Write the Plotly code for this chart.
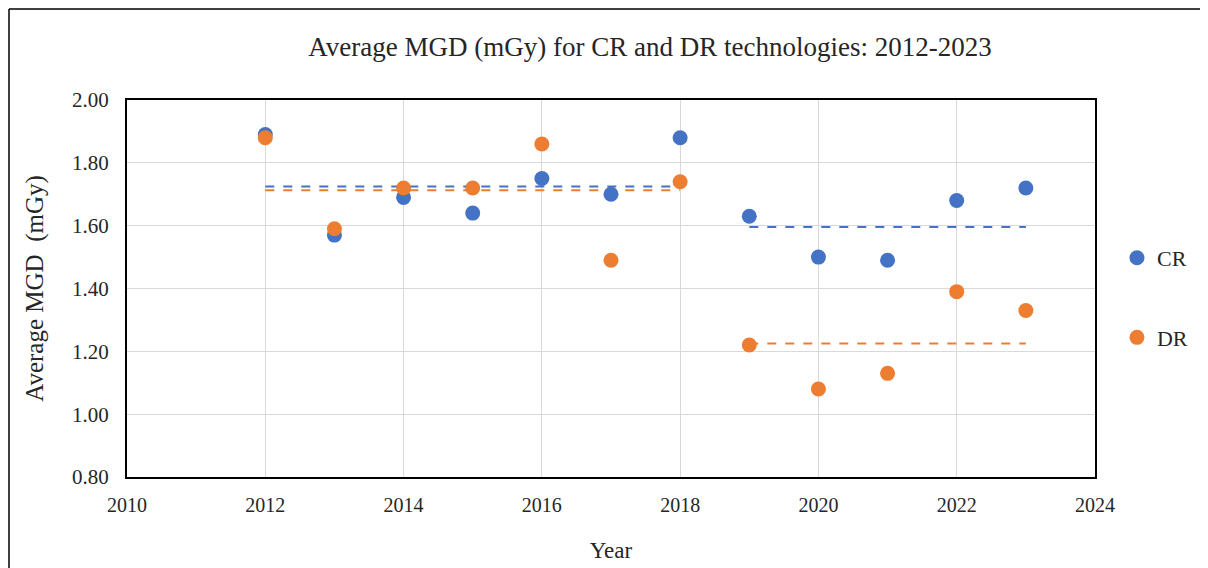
import plotly.graph_objects as go

years = [2012, 2013, 2014, 2015, 2016, 2017, 2018, 2019, 2020, 2021, 2022, 2023]
cr_mgd = [1.89, 1.57, 1.69, 1.64, 1.75, 1.70, 1.88, 1.63, 1.50, 1.49, 1.68, 1.72]
dr_mgd = [1.88, 1.59, 1.72, 1.72, 1.86, 1.49, 1.74, 1.22, 1.08, 1.13, 1.39, 1.33]

# period averages (dashed lines)
periods = [[2012, 2018], [2019, 2023]]
cr_avg = [1.725, 1.596]
dr_avg = [1.713, 1.225]

blue = "#4472C4"
orange = "#ED7D31"
font = "Liberation Serif"

fig = go.Figure()

for (x0, x1), a_cr, a_dr in zip(periods, cr_avg, dr_avg):
    fig.add_trace(go.Scatter(x=[x0, x1], y=[a_cr, a_cr], mode="lines",
                             line=dict(color=blue, width=2, dash="dash"),
                             showlegend=False, hoverinfo="skip"))
    fig.add_trace(go.Scatter(x=[x0, x1], y=[a_dr, a_dr], mode="lines",
                             line=dict(color=orange, width=2, dash="dash"),
                             showlegend=False, hoverinfo="skip"))

fig.add_trace(go.Scatter(x=years, y=cr_mgd, mode="markers", name="CR",
                         legendgroup="cr",
                         marker=dict(color=blue, size=15)))
fig.add_trace(go.Scatter(x=years, y=dr_mgd, mode="markers", name="DR",
                         legendgroup="dr",
                         marker=dict(color=orange, size=15)))

# outer frame (top, left, right) in paper units of the plot area
frame = dict(xref="paper", yref="paper", type="line",
             line=dict(color="black", width=1.5))

# page body adds an 8px offset, so the figure is 8px smaller to fit
fig.update_layout(
    width=1200, height=560,
    margin=dict(l=119, r=113, t=92, b=91),
    paper_bgcolor="white", plot_bgcolor="white",
    font=dict(family=font, color="#262626", size=18),
    title=dict(text="Average MGD (mGy) for CR and DR technologies: 2012-2023",
               x=0.535, xanchor="center", y=0.932, yanchor="middle",
               font=dict(size=27, color="#262626")),
    legend=dict(x=1.0227, y=0.475, xanchor="left", yanchor="middle",
                tracegroupgap=48, font=dict(size=22),
                itemwidth=30),
    shapes=[
        dict(frame, x0=-0.1219, x1=1.1136, y0=1.2414, y1=1.2414),
        dict(frame, x0=-0.1219, x1=-0.1219, y0=-0.25, y1=1.2414),
        dict(frame, x0=1.1136, x1=1.1136, y0=-0.25, y1=1.2414),
    ],
)

fig.update_xaxes(range=[2010, 2024], dtick=2, tick0=2010,
                 showgrid=True, gridcolor="#D9D9D9", gridwidth=1,
                 showline=True, linecolor="black", linewidth=2, mirror=True,
                 zeroline=False, ticks="", ticklabelstandoff=9,
                 tickfont=dict(size=20), automargin=False,
                 title=dict(text="Year", font=dict(size=23), standoff=27))
fig.update_yaxes(range=[0.8, 2.0], dtick=0.2, tickformat=".2f",
                 showgrid=True, gridcolor="#D9D9D9", gridwidth=1,
                 showline=True, linecolor="black", linewidth=2, mirror=True,
                 zeroline=False, ticks="", ticklabelstandoff=12,
                 tickfont=dict(size=21), automargin=False,
                 title=dict(text="Average MGD  (mGy)", font=dict(size=25),
                            standoff=21))

fig.write_html("out.html")
